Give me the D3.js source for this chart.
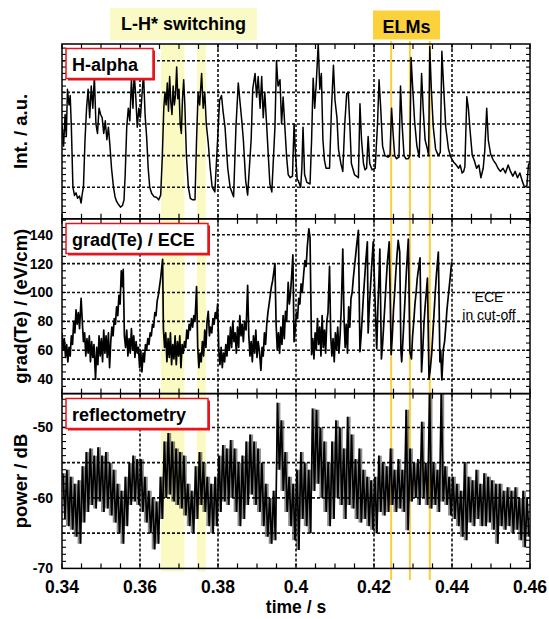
<!DOCTYPE html>
<html>
<head>
<meta charset="utf-8">
<script src="https://cdnjs.cloudflare.com/ajax/libs/d3/7.8.5/d3.min.js"></script>
<style>
body { margin: 0; background: #fff; }
text { font-family: "Liberation Sans", Arial, sans-serif; }
</style>
</head>
<body>
<script>
// three stacked time traces, shared time axis

// ---- data ----
var xDomain = [0.34, 0.46];
var xTicks = [0.34, 0.36, 0.38, 0.4, 0.42, 0.44, 0.46];
var xTickLabels = ["0.34", "0.36", "0.38", "0.4", "0.42", "0.44", "0.46"];

var haDomain = [0, 5.53];
var haGrid = [1, 2, 3, 4, 5];
var gradDomain = [30, 151];
var gradTicks = [40, 60, 80, 100, 120, 140];
var reflDomain = [-70, -45.2];
var reflGrid = [-65, -60, -55, -50];
var reflTicks = [-70, -60, -50];

var lhBands = [[0.3654, 0.3714], [0.3746, 0.3769]];
var elmTimes = [0.4244, 0.4292, 0.4343];

// H-alpha  [t, a.u.]
var halpha = [[0.3400,3.0],[0.3404,2.3],[0.3408,3.3],[0.3411,2.6],[0.3414,4.1],[0.3418,3.6],[0.3421,3.9],[0.3424,2.9],[0.3428,1.0],[0.3432,0.74],[0.3436,0.82],[0.3440,0.65],[0.3445,0.72],[0.3449,0.5],[0.3452,0.8],[0.3455,1.0],[0.3459,2.5],[0.3463,3.5],[0.3467,4.1],[0.3471,3.2],[0.3475,4.2],[0.3479,3.5],[0.3483,4.5],[0.3487,3.0],[0.3491,2.7],[0.3495,3.5],[0.3499,3.3],[0.3503,3.2],[0.3507,2.7],[0.3511,3.1],[0.3515,2.5],[0.3519,2.9],[0.3523,2.3],[0.3527,1.6],[0.3532,1.0],[0.3536,0.7],[0.3540,0.55],[0.3545,0.45],[0.3550,0.37],[0.3555,0.42],[0.3559,0.6],[0.3562,1.4],[0.3566,2.9],[0.3570,3.5],[0.3574,3.1],[0.3578,4.4],[0.3582,3.5],[0.3585,4.6],[0.3589,3.9],[0.3593,2.9],[0.3597,3.5],[0.3601,3.2],[0.3605,3.9],[0.3609,4.6],[0.3613,3.3],[0.3617,2.6],[0.3621,1.6],[0.3625,1.0],[0.3630,0.8],[0.3636,0.7],[0.3642,0.68],[0.3648,0.6],[0.3653,0.75],[0.3657,1.9],[0.3661,3.5],[0.3664,4.0],[0.3667,3.6],[0.3670,4.3],[0.3673,3.4],[0.3676,4.5],[0.3679,3.7],[0.3682,3.3],[0.3685,4.2],[0.3688,3.6],[0.3691,3.9],[0.3694,4.8],[0.3697,3.8],[0.3700,4.1],[0.3703,3.0],[0.3706,2.7],[0.3709,3.8],[0.3712,4.4],[0.3715,3.6],[0.3719,2.0],[0.3724,1.0],[0.3729,0.65],[0.3735,0.6],[0.3741,0.6],[0.3745,2.5],[0.3749,4.0],[0.3753,3.6],[0.3758,4.6],[0.3762,3.5],[0.3766,4.0],[0.3770,3.0],[0.3775,2.4],[0.3780,1.6],[0.3785,1.0],[0.3792,0.85],[0.3799,2.5],[0.3804,3.75],[0.3809,3.9],[0.3813,3.4],[0.3818,2.9],[0.3825,1.6],[0.3831,1.0],[0.3840,0.7],[0.3846,2.9],[0.3852,4.3],[0.3856,3.75],[0.3861,3.1],[0.3865,2.5],[0.3871,1.2],[0.3876,0.75],[0.3885,2.5],[0.3889,4.1],[0.3895,4.6],[0.3899,3.85],[0.3903,4.5],[0.3908,3.5],[0.3912,4.5],[0.3916,3.2],[0.3920,4.0],[0.3925,2.9],[0.3929,2.0],[0.3933,1.1],[0.3938,0.85],[0.3946,2.9],[0.3950,5.0],[0.3954,4.2],[0.3959,4.4],[0.3963,3.0],[0.3967,3.85],[0.3971,3.0],[0.3976,1.95],[0.3980,1.4],[0.3985,1.3],[0.3991,1.35],[0.3995,3.0],[0.3998,2.2],[0.4003,1.25],[0.4006,1.2],[0.4012,1.0],[0.4015,1.6],[0.4018,2.9],[0.4022,1.4],[0.4028,1.15],[0.4036,1.1],[0.4040,2.5],[0.4044,4.45],[0.4048,3.5],[0.4052,4.3],[0.4057,5.55],[0.4061,4.1],[0.4065,4.6],[0.4069,2.5],[0.4073,1.85],[0.4077,1.6],[0.4086,1.6],[0.4091,3.5],[0.4096,4.86],[0.4100,3.75],[0.4105,3.2],[0.4109,2.2],[0.4115,1.75],[0.4120,1.5],[0.4125,3.0],[0.4130,3.96],[0.4134,4.0],[0.4138,3.0],[0.4142,1.75],[0.4150,1.4],[0.4160,1.3],[0.4164,3.64],[0.4168,2.5],[0.4173,1.75],[0.4177,1.55],[0.4181,1.6],[0.4185,2.6],[0.4189,1.75],[0.4195,1.55],[0.4203,1.6],[0.4209,3.0],[0.4213,4.4],[0.4217,3.55],[0.4222,2.3],[0.4228,2.0],[0.4236,1.95],[0.4241,2.0],[0.4245,3.5],[0.4249,2.7],[0.4253,2.0],[0.4258,1.9],[0.4264,1.95],[0.4268,4.2],[0.4272,3.0],[0.4277,2.0],[0.4282,1.9],[0.4288,1.9],[0.4292,2.0],[0.4295,5.1],[0.4299,4.2],[0.4304,3.1],[0.4310,2.3],[0.4316,1.95],[0.4322,4.6],[0.4326,3.5],[0.4331,2.5],[0.4337,2.2],[0.4340,2.0],[0.4343,5.45],[0.4347,4.1],[0.4352,2.9],[0.4358,2.2],[0.4365,2.0],[0.4370,2.1],[0.4374,5.3],[0.4378,4.3],[0.4384,2.9],[0.4391,2.2],[0.4397,1.95],[0.4404,1.8],[0.4411,1.7],[0.4417,1.6],[0.4421,1.7],[0.4426,1.45],[0.4430,1.5],[0.4433,1.65],[0.4438,3.86],[0.4442,3.5],[0.4447,2.7],[0.4452,2.0],[0.4457,1.85],[0.4463,1.6],[0.4469,1.7],[0.4474,1.3],[0.4480,1.6],[0.4484,2.15],[0.4489,3.5],[0.4493,2.5],[0.4499,2.05],[0.4506,1.85],[0.4512,1.75],[0.4518,1.6],[0.4524,1.5],[0.4531,1.6],[0.4537,1.45],[0.4544,1.7],[0.4550,1.5],[0.4556,1.35],[0.4562,1.5],[0.4568,1.3],[0.4574,1.45],[0.4580,1.2],[0.4586,1.0],[0.4592,1.05],[0.4596,1.7],[0.4600,1.8]];

// grad(Te) from ECE  [t, eV/cm]  (ends at 0.44, ECE in cut-off after)
var gradTe = [[0.3400,72],[0.3403,60],[0.3406,68],[0.3409,55],[0.3412,64],[0.3415,52],[0.3418,62],[0.3421,56],[0.3424,70],[0.3427,64],[0.3430,80],[0.3433,72],[0.3436,88],[0.3439,78],[0.3442,86],[0.3445,75],[0.3449,96],[0.3452,80],[0.3455,66],[0.3458,72],[0.3461,56],[0.3464,68],[0.3467,58],[0.3470,70],[0.3473,52],[0.3476,66],[0.3479,55],[0.3482,64],[0.3486,40],[0.3489,62],[0.3492,50],[0.3495,70],[0.3498,56],[0.3501,68],[0.3504,52],[0.3507,74],[0.3510,58],[0.3513,70],[0.3516,55],[0.3519,72],[0.3522,48],[0.3525,66],[0.3528,76],[0.3531,70],[0.3534,82],[0.3537,78],[0.3540,90],[0.3543,84],[0.3546,98],[0.3549,92],[0.3552,115],[0.3555,104],[0.3557,116],[0.3560,70],[0.3563,62],[0.3566,74],[0.3569,56],[0.3572,68],[0.3575,58],[0.3578,75],[0.3581,60],[0.3584,70],[0.3587,55],[0.3590,66],[0.3593,58],[0.3596,62],[0.3599,48],[0.3602,60],[0.3605,45],[0.3608,58],[0.3611,52],[0.3614,64],[0.3617,60],[0.3620,68],[0.3623,64],[0.3626,72],[0.3629,70],[0.3632,78],[0.3635,76],[0.3638,86],[0.3641,84],[0.3644,94],[0.3647,98],[0.3650,104],[0.3653,110],[0.3656,118],[0.3658,123],[0.3660,75],[0.3663,62],[0.3666,72],[0.3669,52],[0.3672,68],[0.3675,55],[0.3678,72],[0.3681,50],[0.3684,64],[0.3687,54],[0.3690,70],[0.3693,50],[0.3696,66],[0.3699,56],[0.3702,70],[0.3705,48],[0.3708,64],[0.3711,58],[0.3714,66],[0.3717,62],[0.3720,74],[0.3723,68],[0.3726,78],[0.3729,74],[0.3732,82],[0.3735,76],[0.3738,84],[0.3741,80],[0.3745,104],[0.3748,62],[0.3751,48],[0.3754,58],[0.3757,52],[0.3760,66],[0.3763,56],[0.3766,74],[0.3769,62],[0.3772,80],[0.3775,87],[0.3778,70],[0.3781,76],[0.3784,72],[0.3787,82],[0.3790,78],[0.3793,86],[0.3796,82],[0.3799,92],[0.3802,60],[0.3805,50],[0.3808,62],[0.3811,48],[0.3814,58],[0.3817,52],[0.3820,64],[0.3823,56],[0.3826,70],[0.3829,60],[0.3832,76],[0.3835,62],[0.3838,80],[0.3841,66],[0.3844,72],[0.3847,58],[0.3850,76],[0.3853,62],[0.3856,84],[0.3859,70],[0.3862,78],[0.3865,66],[0.3868,80],[0.3872,74],[0.3876,105],[0.3879,70],[0.3882,56],[0.3885,66],[0.3888,52],[0.3891,70],[0.3894,58],[0.3897,74],[0.3900,55],[0.3903,66],[0.3906,60],[0.3910,46],[0.3913,62],[0.3916,56],[0.3919,72],[0.3922,64],[0.3925,78],[0.3928,86],[0.3931,92],[0.3934,98],[0.3937,104],[0.3940,108],[0.3943,114],[0.3946,120],[0.3949,78],[0.3952,60],[0.3955,72],[0.3958,58],[0.3961,76],[0.3964,64],[0.3967,84],[0.3970,68],[0.3973,87],[0.3976,80],[0.3980,107],[0.3983,92],[0.3986,100],[0.3989,112],[0.3992,126],[0.3995,66],[0.3998,74],[0.4001,86],[0.4004,82],[0.4007,96],[0.4010,92],[0.4013,106],[0.4016,100],[0.4020,114],[0.4023,122],[0.4026,118],[0.4029,132],[0.4033,144],[0.4036,138],[0.4040,57],[0.4043,68],[0.4046,54],[0.4049,72],[0.4052,60],[0.4055,82],[0.4058,64],[0.4061,76],[0.4064,56],[0.4067,84],[0.4070,62],[0.4073,74],[0.4076,58],[0.4079,80],[0.4082,86],[0.4086,118],[0.4089,70],[0.4092,56],[0.4095,68],[0.4098,52],[0.4101,72],[0.4104,60],[0.4107,76],[0.4110,58],[0.4113,70],[0.4116,88],[0.4120,130],[0.4123,84],[0.4126,62],[0.4129,78],[0.4132,58],[0.4135,90],[0.4138,76],[0.4141,96],[0.4144,100],[0.4147,110],[0.4150,118],[0.4153,126],[0.4156,134],[0.4160,143],[0.4164,59],[0.4167,70],[0.4170,84],[0.4173,98],[0.4176,110],[0.4179,122],[0.4183,135],[0.4185,72],[0.4188,90],[0.4191,104],[0.4194,118],[0.4198,135],[0.4202,100],[0.4207,61],[0.4210,90],[0.4213,112],[0.4215,130],[0.4219,54],[0.4222,64],[0.4225,78],[0.4228,92],[0.4231,106],[0.4234,120],[0.4239,135],[0.4244,57],[0.4247,70],[0.4250,88],[0.4253,100],[0.4256,114],[0.4259,126],[0.4262,136],[0.4266,128],[0.4269,60],[0.4271,52],[0.4274,66],[0.4277,82],[0.4280,98],[0.4283,114],[0.4286,128],[0.4288,137],[0.4292,59],[0.4296,54],[0.4299,70],[0.4302,80],[0.4305,92],[0.4308,100],[0.4311,110],[0.4315,118],[0.4318,124],[0.4322,45],[0.4325,60],[0.4328,78],[0.4331,90],[0.4334,100],[0.4337,110],[0.4341,40.5],[0.4344,46],[0.4348,58],[0.4351,72],[0.4354,86],[0.4357,100],[0.4360,112],[0.4363,122],[0.4365,128],[0.4369,52],[0.4371,60],[0.4374,39.5],[0.4378,61],[0.4381,66],[0.4384,76],[0.4387,88],[0.4390,96],[0.4393,104],[0.4396,112],[0.4399,121]];

// reflectometry power  [t, max dB, min dB] per 1 ms
var refl = [[0.3405,-56.5,-63],[0.3415,-56,-64],[0.3425,-57,-64.5],[0.3435,-58,-65.5],[0.3445,-57.5,-66.5],[0.3455,-55.5,-63.5],[0.3465,-53.5,-62],[0.3475,-53,-61],[0.3485,-54,-61.5],[0.3495,-52.8,-60.5],[0.3505,-54,-62],[0.3515,-53.5,-61.5],[0.3525,-55,-62.5],[0.3535,-56,-63.5],[0.3545,-58,-65],[0.3555,-59,-66.5],[0.3565,-57,-64],[0.3575,-55,-61],[0.3585,-54,-60.5],[0.3595,-54.5,-61],[0.3605,-54.5,-62],[0.3615,-57,-63.5],[0.3625,-59,-65],[0.3635,-60,-67.3],[0.3645,-60.5,-66.5],[0.3655,-57,-63],[0.3665,-52,-60],[0.3675,-50.8,-59.5],[0.3685,-52,-60.5],[0.3695,-53,-61],[0.3705,-53.5,-61.5],[0.3715,-54,-62.5],[0.3725,-58,-64],[0.3735,-59,-65],[0.3745,-55.5,-63],[0.3755,-53.5,-61],[0.3765,-55,-62],[0.3775,-57,-64],[0.3785,-58,-65],[0.3795,-57,-64],[0.3805,-54,-62],[0.3815,-52.5,-60.5],[0.3825,-53,-61],[0.3835,-51.8,-60],[0.3845,-53,-62],[0.3855,-55,-64],[0.3865,-54,-63],[0.3875,-52,-61],[0.3885,-51,-59.5],[0.3895,-52,-61],[0.3905,-53,-62],[0.3915,-55,-64],[0.3925,-58,-65.5],[0.3935,-60,-66.5],[0.3945,-59,-66],[0.3955,-46.5,-56],[0.3965,-49,-59],[0.3975,-53.5,-62],[0.3985,-57,-64],[0.3995,-58,-66],[0.4005,-56,-67.4],[0.4015,-53.5,-63],[0.4025,-55,-64],[0.4035,-56,-65],[0.4045,-47.3,-59],[0.4055,-47.5,-58],[0.4065,-50,-60],[0.4075,-52,-62],[0.4085,-55,-64],[0.4095,-52,-63],[0.4105,-49,-60],[0.4115,-50,-61],[0.4125,-53,-63],[0.4135,-48.5,-61],[0.4145,-51,-61.5],[0.4155,-54.5,-63],[0.4165,-53,-63.5],[0.4175,-56,-63],[0.4185,-57,-64],[0.4195,-57.5,-64.5],[0.4205,-57,-65],[0.4215,-54,-62],[0.4225,-55,-62.5],[0.4235,-55.5,-62],[0.4245,-53,-61],[0.4255,-56,-62],[0.4265,-54.5,-61.5],[0.4275,-56,-62],[0.4285,-47.5,-64.6],[0.4295,-53,-60.5],[0.4305,-55,-60],[0.4315,-54.5,-61],[0.4325,-49.2,-60],[0.4335,-55,-61],[0.4345,-45.2,-61.5],[0.4355,-55,-61],[0.4365,-56,-62],[0.4375,-45.2,-60.5],[0.4385,-55.5,-61],[0.4395,-57,-62.5],[0.4405,-57,-63],[0.4415,-58,-64],[0.4425,-59,-65.5],[0.4435,-54.9,-66],[0.4445,-57,-63.5],[0.4455,-57.5,-64],[0.4465,-56,-63],[0.4475,-58,-64],[0.4485,-56.5,-64],[0.4495,-57,-63.5],[0.4505,-57.5,-64.5],[0.4515,-58,-66.5],[0.4525,-58,-64],[0.4535,-59,-64.5],[0.4545,-58.5,-64],[0.4555,-59,-65],[0.4565,-58.5,-64.5],[0.4575,-60,-66],[0.4585,-59,-67],[0.4595,-60,-65.5]];

// ---- layout ----
var w = 549, h = 619;
var L = 62, R = 530;
var tops = [44, 218.8, 393.6];
var ph = 174.8;

var svg = d3.select("body").append("svg")
	.attr("width", w).attr("height", h);

var x = d3.scaleLinear().domain(xDomain).range([L, R]);
var yHa = d3.scaleLinear().domain(haDomain).range([tops[0] + ph, tops[0]]);
var yGrad = d3.scaleLinear().domain(gradDomain).range([tops[1] + ph, tops[1]]);
var yRefl = d3.scaleLinear().domain(reflDomain).range([tops[2] + ph, tops[2]]);

var panels = [
	{ y: yHa, top: tops[0], grid: haGrid, ticks: [], minor: 0.2, label: "H-alpha", boxW: 87, title: "Int. / a.u." },
	{ y: yGrad, top: tops[1], grid: gradTicks, ticks: gradTicks, minor: 5, label: "grad(Te) / ECE", boxW: 142, title: "grad(Te) / (eV/cm)" },
	{ y: yRefl, top: tops[2], grid: reflGrid, ticks: reflTicks, minor: 1, label: "reflectometry", boxW: 142, title: "power / dB" }
];

// L-H* bands
svg.selectAll("rect.band").data(lhBands).enter().append("rect")
	.attr("class", "band")
	.attr("x", function(d) { return x(d[0]); })
	.attr("width", function(d) { return x(d[1]) - x(d[0]); })
	.attr("y", tops[0])
	.attr("height", 571.5 - tops[0])
	.attr("fill", "#fafac2");

// ELM markers
svg.selectAll("line.elm").data(elmTimes).enter().append("line")
	.attr("x1", function(d) { return x(d); }).attr("x2", function(d) { return x(d); })
	.attr("y1", 41).attr("y2", 580)
	.attr("stroke", "#f8cf3c").attr("stroke-width", 2);

panels.forEach(function(p, i) {
	var g = svg.append("g");
	var bot = p.top + ph;

	// dotted grid
	g.selectAll("line.hg").data(p.grid).enter().append("line")
		.attr("x1", L).attr("x2", R)
		.attr("y1", function(d) { return p.y(d); }).attr("y2", function(d) { return p.y(d); })
		.attr("stroke", "#111").attr("stroke-width", 1.6).attr("stroke-dasharray", "3,2");
	g.selectAll("line.vg").data(xTicks.slice(1, -1)).enter().append("line")
		.attr("x1", function(d) { return x(d); }).attr("x2", function(d) { return x(d); })
		.attr("y1", p.top).attr("y2", bot)
		.attr("stroke", "#111").attr("stroke-width", 1.6).attr("stroke-dasharray", "3,2");

	// clip for the trace
	svg.append("clipPath").attr("id", "clip" + i).append("rect")
		.attr("x", L).attr("y", p.top).attr("width", R - L).attr("height", ph);
	p.g = svg.append("g").attr("clip-path", "url(#clip" + i + ")");

	// inward ticks: x minor every 5 ms, y minor
	var xt = d3.range(0.34, 0.4601, 0.005);
	xt.forEach(function(t) {
		var len = 5;
		g.append("line").attr("x1", x(t)).attr("x2", x(t)).attr("y1", p.top).attr("y2", p.top + len)
			.attr("stroke", "#000").attr("stroke-width", 1.2);
		g.append("line").attr("x1", x(t)).attr("x2", x(t)).attr("y1", bot).attr("y2", bot - len)
			.attr("stroke", "#000").attr("stroke-width", 1.2);
	});
	var d0 = p.y.domain();
	var yt = d3.range(Math.ceil(d0[0] / p.minor) * p.minor, d0[1], p.minor);
	yt.forEach(function(v) {
		var yy = p.y(v);
		if (yy < p.top + 1 || yy > bot - 1) return;
		g.append("line").attr("x1", L).attr("x2", L + 4).attr("y1", yy).attr("y2", yy)
			.attr("stroke", "#000").attr("stroke-width", 1.1);
		g.append("line").attr("x1", R).attr("x2", R - 4).attr("y1", yy).attr("y2", yy)
			.attr("stroke", "#000").attr("stroke-width", 1.1);
	});

	// frame
	g.append("rect").attr("x", L).attr("y", p.top).attr("width", R - L).attr("height", ph)
		.attr("fill", "none").attr("stroke", "#000").attr("stroke-width", 1.5);

	// y tick labels
	g.selectAll("text.yt").data(p.ticks).enter().append("text")
		.attr("x", 53).attr("y", function(d) { return p.y(d) + 5; })
		.attr("text-anchor", "end").attr("font-size", 14).attr("font-weight", "bold")
		.text(function(d) { return d; });

	// y title
	var cy = p.top + ph / 2;
	g.append("text")
		.attr("transform", "translate(27," + cy + ") rotate(-90)")
		.attr("text-anchor", "middle").attr("font-size", 18.5).attr("font-weight", "bold")
		.text(p.title);
});

// traces
var lineHa = d3.line().x(function(d) { return x(d[0]); }).y(function(d) { return yHa(d[1]); });
panels[0].g.append("path").datum(halpha).attr("d", lineHa)
	.attr("fill", "none").attr("stroke", "#000").attr("stroke-width", 1.5).attr("stroke-linejoin", "round");

var lineGrad = d3.line().x(function(d) { return x(d[0]); }).y(function(d) { return yGrad(d[1]); });
panels[1].g.append("path").datum(gradTe).attr("d", lineGrad)
	.attr("fill", "none").attr("stroke", "#000").attr("stroke-width", 1.7).attr("stroke-linejoin", "round");

// reflectometry: shaded min/max envelope plus zigzag through each 1 ms bin
var areaRefl = d3.area().x(function(d) { return x(d[0]); })
	.y0(function(d) { return yRefl(d[2]); }).y1(function(d) { return yRefl(d[1]); })
	.curve(d3.curveStep);
panels[2].g.append("path").datum(refl).attr("d", areaRefl)
	.attr("fill", "#000").attr("fill-opacity", 0.45);

var reflPts = [];
refl.forEach(function(d) {
	reflPts.push([d[0] - 0.00025, d[1]]);
	reflPts.push([d[0] + 0.00025, d[2]]);
});
var lineRefl = d3.line().x(function(d) { return x(d[0]); }).y(function(d) { return yRefl(d[1]); });
panels[2].g.append("path").datum(reflPts).attr("d", lineRefl)
	.attr("fill", "none").attr("stroke", "#000").attr("stroke-width", 1.7);

// panel name boxes
var boxY = [48.5, 223.5, 398.5];
panels.forEach(function(p, i) {
	var bx = 66, by = boxY[i], bh = 30;
	svg.append("rect").attr("x", bx + 2).attr("y", by + 2).attr("width", p.boxW).attr("height", bh)
		.attr("fill", "#e8141c");
	svg.append("rect").attr("x", bx).attr("y", by).attr("width", p.boxW).attr("height", bh)
		.attr("fill", "#fff").attr("stroke", "#e8141c").attr("stroke-width", 1.5);
	svg.append("text").attr("x", bx + 6).attr("y", by + 22.5)
		.attr("font-size", 18).attr("font-weight", "bold").text(p.label);
});

// top annotations
svg.append("rect").attr("x", 110).attr("y", 8).attr("width", 147).attr("height", 32).attr("fill", "#fafac6");
svg.append("text").attr("x", 183.5).attr("y", 30).attr("text-anchor", "middle")
	.attr("font-size", 18).attr("font-weight", "bold").text("L-H* switching");
svg.append("rect").attr("x", 373).attr("y", 10.5).attr("width", 67).attr("height", 29).attr("fill", "#fcd23c");
svg.append("text").attr("x", 406.5).attr("y", 33).attr("text-anchor", "middle")
	.attr("font-size", 18).attr("font-weight", "bold").text("ELMs");

// ECE note
svg.append("text").attr("x", 489).attr("y", 302).attr("text-anchor", "middle")
	.attr("font-size", 14).text("ECE");
svg.append("text").attr("x", 489).attr("y", 320).attr("text-anchor", "middle")
	.attr("font-size", 14).text("in cut-off");

// x axis labels
var bottom = tops[2] + ph;
svg.selectAll("text.xt").data(xTicks).enter().append("text")
	.attr("x", function(d) { return x(d); }).attr("y", bottom + 25)
	.attr("text-anchor", "middle").attr("font-size", 17.5).attr("font-weight", "bold")
	.text(function(d, i) { return xTickLabels[i]; });
svg.append("text").attr("x", (L + R) / 2).attr("y", 613)
	.attr("text-anchor", "middle").attr("font-size", 17.5).attr("font-weight", "bold")
	.text("time / s");
</script>
</body>
</html>
